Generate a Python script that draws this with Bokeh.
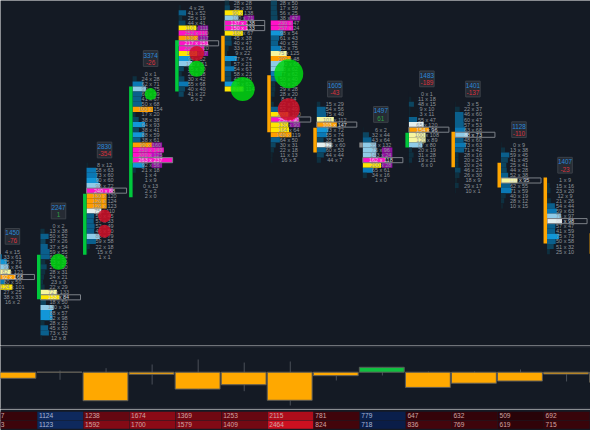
from bokeh.plotting import figure
from bokeh.layouts import column
from bokeh.models import ColumnDataSource, Range1d, Span
from bokeh.core.properties import value
from bokeh.embed import file_html
from bokeh.resources import INLINE

# ---------- data ----------
c0_rows = ["4 x 15", "33 x 61", "75 x 79", "90 x 84", "82 x 123", "92 x 168", "80 x 50", "124 x 101", "27 x 25", "38 x 33", "16 x 2"]
c1_rows = ["0 x 2", "13 x 38", "50 x 52", "37 x 26", "37 x 54", "59 x 55", "61 x 54", "23 x 36", "27 x 50", "28 x 31", "24 x 21", "23 x 9",
           "22 x 29", "72 x 133", "153 x 84", "18 x 50", "130 x 34", "88 x 57", "52 x 98", "28 x 22", "45 x 50", "73 x 32", "12 x 8"]
c2_rows = ["8 x 12", "58 x 63", "73 x 60", "90 x 60", "98 x 72", "240 x 88", "130 x 120", "126 x 124", "128 x 123", "75 x 110", "50 x 45",
           "57 x 33", "52 x 49", "46 x 50", "86 x 79", "59 x 58", "22 x 18", "15 x 6", "1 x 1"]
c3_rows = ["0 x 1", "24 x 28", "62 x 71", "92 x 75", "60 x 59", "41 x 67", "50 x 68", "100 x 154", "17 x 20", "38 x 38", "64 x 93", "38 x 41",
           "88 x 59", "38 x 61", "90 x 160", "250 x 140", "200 x 125", "263 x 237", "92 x 56", "21 x 18", "1 x 4", "1 x 9", "0 x 13", "2 x 2", "2 x 0"]
c4_rows = ["4 x 25", "41 x 52", "25 x 19", "44 x 41", "110 x 111", "252 x 110", "130 x 117", "217 x 151", "200 x 120", "165 x 67", "94 x 52",
           "120 x 51", "35 x 30", "20 x 18", "30 x 42", "55 x 68", "40 x 40", "41 x 22", "5 x 2"]
c5_rows = ["28 x 28", "25 x 39", "90 x 138", "100 x 71", "137 x 138", "150 x 133", "160 x 67", "45 x 38", "40 x 47", "33 x 16", "9 x 22",
           "77 x 74", "57 x 21", "54 x 67", "58 x 23", "42 x 40", "88 x 62", "121 x 114"]
c6_rows = ["28 x 50", "17 x 59", "56 x 25", "38 x 47", "230 x 47", "257 x 24", "98 x 54", "61 x 43", "40 x 52", "52 x 75", "75 x 125", "202 x 48",
           "100 x 66", "98 x 62", "77 x 62", "50 x 40", "30 x 26", "29 x 28", "28 x 20", "8 x 14", "22 x 16", "52 x 49", "120 x 100", "258 x 90",
           "130 x 90", "164 x 64", "140 x 119", "64 x 50", "30 x 31", "22 x 18", "11 x 13", "16 x 5"]
c7_rows = ["15 x 29", "54 x 56", "75 x 40", "101 x 112", "103 x 147", "73 x 72", "55 x 74", "35 x 50", "125 x 60", "60 x 53", "44 x 44", "44 x 7"]
c8_rows = ["6 x 2", "32 x 44", "43 x 64", "35 x 132", "75 x 96", "143 x 24", "162 x 118", "200 x 28", "65 x 61", "34 x 16", "1 x 0"]
c9_rows = ["0 x 1", "11 x 18", "48 x 15", "9 x 10", "3 x 11", "55 x 47", "65 x 120", "154 x 96", "100 x 108", "120 x 89", "87 x 80", "20 x 19",
           "31 x 28", "19 x 21", "6 x 0"]
c10_rows = ["3 x 5", "22 x 37", "46 x 60", "60 x 47", "57 x 53", "63 x 68", "88 x 73", "48 x 60", "73 x 63", "71 x 42", "28 x 16", "20 x 24",
            "20 x 24", "46 x 23", "26 x 30", "18 x 9", "29 x 17", "10 x 1"]
c11_rows = ["0 x 9", "13 x 38", "59 x 45", "41 x 45", "25 x 41", "44 x 28", "52 x 38", "110 x 95", "62 x 55", "71 x 59", "40 x 19", "28 x 12", "10 x 15"]
c12_rows = ["1 x 9", "15 x 16", "23 x 20", "12 x 9", "21 x 26", "54 x 44", "59 x 63", "76 x 97", "88 x 98", "57 x 47", "41 x 59", "75 x 73",
            "50 x 58", "51 x 32", "25 x 10"]
candle_rows = [c0_rows, c1_rows, c2_rows, c3_rows, c4_rows, c5_rows, c6_rows, c7_rows, c8_rows, c9_rows, c10_rows, c11_rows, c12_rows]
top_price = [65, 70, 82, 100, 113, 114, 114, 94, 89, 96, 94, 86, 79]
poc_rows = [[5], [14], [5], [17], [7], [4, 5], [23], [4], [6], [7], [6], [7], [8]]
imbalance_rows = [[], [], [], [14, 16, 18], [4, 6, 9], [3], [3, 24], [], [4, 5, 7], [], [], [], []]

body_top = [64.0, 64.4, 76.4, 97.5, 106.6, 107.5, 99.7, 89.4, 86.5, 88.4, 88.6, 82.5, 79.6, 68.6]
body_bot = [56.0, 55.6, 64.4, 75.7, 96.5, 98.5, 88.5, 84.5, 85.5, 85.5, 81.6, 77.6, 66.6, 64.6]
body_dir = ["down", "up", "up", "up", "up", "down", "down", "down", "flat", "up", "down", "down", "down", "down"]

row_ask = [687, 1124, 1238, 1674, 1369, 1253, 2115, 781, 779, 647, 632, 509, 692]
row_bid = [763, 1123, 1592, 1700, 1579, 1409, 2464, 824, 718, 836, 769, 619, 715]
delta_last = -124
delta_hi = [0, 21, 50, 96, 158, 120, 133, 0, 61, 9, 9, 34, 0]
delta_lo = [-76, -94, -354, -153, -215, -236, -414, -103, -41, -189, -137, -110, -115]
boxed = [0, 1, 2, 3, 7, 8, 9, 10, 11, 12]

bubble_candle = [1, 2, 2, 3, 4, 4, 5, 6, 6]
bubble_price = [63, 72, 69, 96, 104, 101, 97, 100, 93]
bubble_qty = [64, 42, 42, 36, 56, 64, 144, 210, 121]
bubble_side = ["buy", "sell", "sell", "buy", "sell", "buy", "buy", "buy", "sell"]

# ---------- styling ----------
BG = "#141a24"
FONT = value("Liberation Sans")
PX = 46.05
x_start = 1 - 36.5 / PX
x_end = x_start + 590 / PX
H_ROW = 5.08
price_top = 100 + 73.3 / H_ROW
price_bot = price_top - 345 / H_ROW
BODY = {"up": "#00c83c", "down": "#ffa500", "flat": "#8a8a8a"}


def heat(total):
    steps = [(30, "#10242f"), (60, "#0e3040"), (90, "#0c4560"), (120, "#0a5f8c"), (145, "#0a78b5"), (160, "#1296d8"),
             (175, "#8fcbe8"), (195, "#e4eeee"), (215, "#f6f6a0"), (240, "#ffe600"), (270, "#ff9e00")]
    for limit, colour in steps:
        if total < limit:
            return colour
    return "#ff12c8"


def make_fig(height, y_range):
    f = figure(width=590, height=height, x_range=Range1d(x_start, x_end), y_range=y_range,
               output_backend="svg", toolbar_location=None, min_border=0,
               background_fill_color=BG, border_fill_color=BG, outline_line_color=None)
    f.axis.visible = False
    f.grid.visible = False
    return f


# ---------- footprint panel ----------
p = make_fig(345, Range1d(price_bot, price_top))

bar = dict(l=[], r=[], t=[], b=[], c=[])
txt = dict(x=[], y=[], s=[], c=[])
imb = dict(l=[], r=[], t=[], b=[])
poc = dict(l=[], r=[], t=[], b=[])
for i, rows in enumerate(candle_rows):
    for k, label in enumerate(rows):
        bid, ask = [int(v) for v in label.split(" x ")]
        price = top_price[i] - k
        left = i + 3.5 / PX
        bar["l"].append(left)
        bar["r"].append(left + (bid + ask) * 0.08 / PX)
        bar["t"].append(price + 0.5)
        bar["b"].append(price - 0.5)
        bar["c"].append(heat(bid + ask))
        txt["x"].append(i + 21.5 / PX)
        txt["y"].append(price)
        txt["s"].append(label)
        txt["c"].append("#d8dade" if k in poc_rows[i] else "#8f949a")
        if k in imbalance_rows[i]:
            imb["l"].append(i + 22.5 / PX)
            imb["r"].append(i + 33 / PX)
            imb["t"].append(price + 0.5)
            imb["b"].append(price - 0.5)
        if k in poc_rows[i]:
            poc["l"].append(left)
            poc["r"].append(left + 40 / PX)
            poc["t"].append(price + 0.5)
            poc["b"].append(price - 0.5)

p.quad(left="l", right="r", top="t", bottom="b", fill_color="c", line_color=None, source=ColumnDataSource(bar))
p.quad(left="l", right="r", top="t", bottom="b", fill_color="#b010c0", fill_alpha=0.8, line_color=None, source=ColumnDataSource(imb))
p.text(x="x", y="y", text="s", text_color="c", text_font=FONT, text_font_size="5.5px", text_align="center",
       text_baseline="middle", source=ColumnDataSource(txt))
p.quad(left="l", right="r", top="t", bottom="b", fill_color=None, line_color="#7c8188", line_width=1, source=ColumnDataSource(poc))

p.quad(left=[i for i in range(14)], right=[i + 3.5 / PX for i in range(14)], top=body_top, bottom=body_bot,
       fill_color=[BODY[d] for d in body_dir], line_color=None)

p.scatter(x=[c + 21.5 / PX for c in bubble_candle], y=bubble_price,
          size=[2 * q ** 0.5 for q in bubble_qty],
          fill_color=["#00d810" if s == "buy" else "#d01028" for s in bubble_side],
          fill_alpha=0.85, line_color=None)

box_x = [i + 21.5 / PX for i in boxed]
box_y = [top_price[i] + 3 for i in boxed]
p.rect(x=box_x, y=box_y, width=14.5 / PX, height=3.1, fill_color="#262b34", line_color="#3b4048", line_width=1)
p.text(x=box_x, y=[y + 0.7 for y in box_y], text=[str(row_ask[i] + row_bid[i]) for i in boxed],
       text_color="#2b88d8", text_font=FONT, text_font_size="6.4px", text_align="center", text_baseline="middle")
deltas = [row_ask[i] - row_bid[i] for i in boxed]
p.text(x=box_x, y=[y - 0.75 for y in box_y], text=[f"{d}" for d in deltas],
       text_color=["#2f9e44" if d >= 0 else "#d8323c" for d in deltas],
       text_font=FONT, text_font_size="6.4px", text_align="center", text_baseline="middle")

# ---------- delta histogram ----------
U = 0.0805
h = make_fig(64, Range1d(-(409 - 371.7) / U, (371.7 - 345) / U))
delta = [a - b for a, b in zip(row_ask, row_bid)] + [delta_last]
x_left = list(range(14))
wick_x = [i + 0.5 for i in range(13)]
h.segment(x0=wick_x, x1=wick_x, y0=delta_lo, y1=delta_hi, line_color="#4a4f58", line_width=1)
h.quad(left=x_left, right=[x + 0.975 for x in x_left], top=[0] * 14, bottom=delta,
       fill_color=["#10c040" if d > 1 else "#ffa800" for d in delta], line_color="#5a5a58", line_width=1)
h.add_layout(Span(location=320, dimension="width", line_color="#252a34", line_width=2))
h.add_layout(Span(location=-455, dimension="width", line_color="#252a34", line_width=2))

# ---------- volume table ----------
t = make_fig(21, Range1d(2.16, -0.227))


def cell_colour(v, up):
    f = min(1.0, max(0.0, (v - 500) / 1964))
    if up:
        f = min(1.0, max(0.0, (v - 600) / 600))
        rgb = (9 + 6 * f, 26 + 18 * f, 66 + 32 * f)
    else:
        rgb = (40 + 164 * f, 3 + 13 * f, 8 + 24 * f)
    return "#%02x%02x%02x" % tuple(int(c) for c in rgb)


for r, vals in enumerate([row_ask, row_bid]):
    xs = list(range(13))
    ups = [a >= b for a, b in zip(row_ask, row_bid)]
    t.quad(left=[x + 0.01 for x in xs], right=[x + 1.0 for x in xs], top=[r + 0.03] * 13, bottom=[r + 0.97] * 13,
           fill_color=[cell_colour(v, u) for v, u in zip(vals, ups)], line_color=None)
    # only the last digit of the first, partly scrolled-off cell is on screen
    t.text(x=[x + 2.0 / PX for x in xs[1:]], y=[r + 0.5] * 12, text=[str(v) for v in vals[1:]],
           text_color=["#a9b6d4" if u else "#d0a4a4" for u in ups[1:]], text_font=FONT, text_font_size="6.6px",
           text_align="left", text_baseline="middle")
    t.text(x=[x_start + 0.2 / PX], y=[r + 0.5], text=[str(vals[0])[-1]], text_color="#d0a4a4", text_font=FONT,
           text_font_size="6.6px", text_align="left", text_baseline="middle")

page = column(p, h, t, spacing=0)
open("out.html", "w").write(file_html(page, INLINE))
